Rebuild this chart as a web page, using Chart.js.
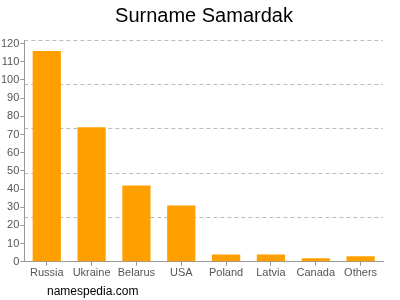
<!DOCTYPE html>
<html>
<head>
<meta charset="utf-8">
<script src="https://cdn.jsdelivr.net/npm/chart.js@4"></script>
<style>
  html, body { margin: 0; padding: 0; background: #fff; }
  #wrap { width: 400px; height: 300px; }
</style>
</head>
<body>
<div id="wrap"><canvas id="chart" width="400" height="300"></canvas></div>
<script>
const countries = ['Russia', 'Ukraine', 'Belarus', 'USA', 'Poland', 'Latvia', 'Canada', 'Others'];
const counts    = [116, 74, 42, 31, 4, 4, 2, 3];
const yMax      = 122;

// title on top, footer text bottom left
const texts = {
  id: 'texts',
  afterDraw(chart) {
    const c = chart.ctx;
    c.save();
    c.fillStyle = '#000';
    c.textBaseline = 'alphabetic';
    c.textAlign = 'center';
    c.font = '20px "Liberation Sans", Arial, sans-serif';
    c.fillText('Surname Samardak', 204, 22);
    c.textAlign = 'left';
    c.textBaseline = 'middle';
    c.font = '12px "Liberation Sans", Arial, sans-serif';
    c.fillText('namespedia.com', 47, 292);
    c.restore();
  }
};

new Chart(document.getElementById('chart').getContext('2d'), {
  type: 'bar',
  data: {
    labels: countries,
    datasets: [{
      data: counts,
      backgroundColor: '#FFA000',
      borderWidth: 0,
      categoryPercentage: 1,
      barPercentage: 0.63,
    }]
  },
  options: {
    responsive: false,
    animation: false,
    layout: { padding: { left: 0, right: 17, top: 40, bottom: 19 } },
    plugins: {
      legend: { display: false },
      tooltip: { enabled: false },
      title: { display: false }
    },
    scales: {
      x: {
        grid: { display: true, drawOnChartArea: false, offset: false, tickLength: 4, color: '#999' },
        border: { color: '#999' },
        ticks: { color: '#555', font: { family: '"Liberation Sans", Arial, sans-serif', size: 11 }, padding: 1 }
      },
      y: {
        min: 0, max: yMax,
        grid: { drawOnChartArea: false, tickLength: 4, color: '#999' },
        border: { color: '#999' },
        ticks: { stepSize: 10, includeBounds: false, color: '#555', font: { family: '"Liberation Sans", Arial, sans-serif', size: 11 }, padding: 1 }
      },
      y2: {
        position: 'right',
        min: 0, max: yMax,
        grid: {
          drawTicks: false,
          color: ctx => ctx.tick && ctx.tick.value === 0 ? 'rgba(0,0,0,0)' : '#bbb'
        },
        border: { display: false, dash: [4, 3] },
        ticks: { display: false, count: 6 }
      }
    }
  },
  plugins: [texts]
});
</script>
</body>
</html>
